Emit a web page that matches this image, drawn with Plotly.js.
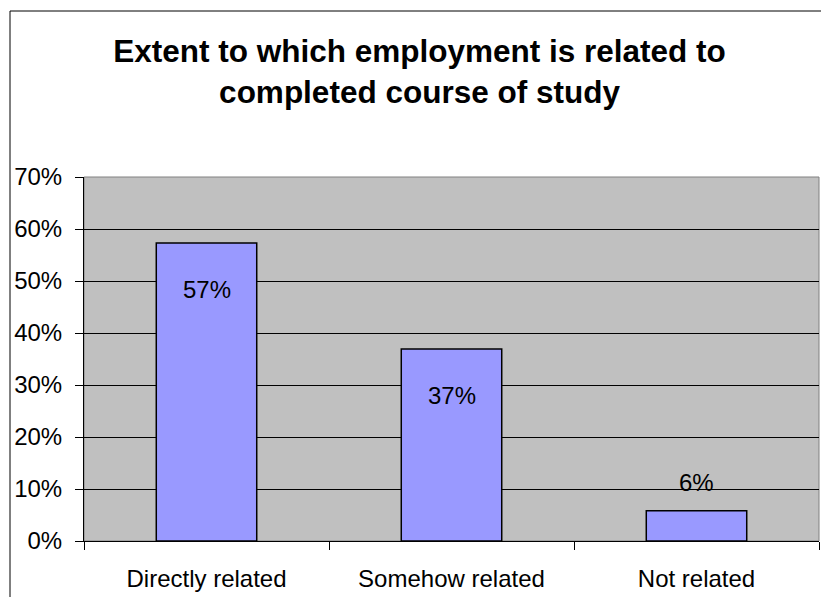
<!DOCTYPE html>
<html><head><meta charset="utf-8">
<script src="https://cdn.plot.ly/plotly-3.0.1.min.js"></script>
<style>html,body{margin:0;padding:0;background:#fff}#chart{width:821px;height:597px}</style>
</head><body><div id="chart"></div>
<script>
const categories = ["Directly related", "Somehow related", "Not related"];
const values = [0.573, 0.369, 0.058];
const labels = ["57%", "37%", "6%"];
const labelShift = [-46, -46, 28];
const yTicks = [0, 0.1, 0.2, 0.3, 0.4, 0.5, 0.6, 0.7];

const font = "Liberation Sans, Arial, sans-serif";
const trace = {
  type: "bar", x: categories, y: values,
  marker: {color: "#9999FF", line: {color: "#000000", width: 1.5}},
  width: 0.41, hoverinfo: "none"
};
const annotations = categories.map((c, i) => ({
  x: c, y: values[i], xref: "x", yref: "y", text: labels[i],
  showarrow: false, yshift: labelShift[i],
  font: {family: font, size: 24, color: "#000"}
}));
const W = 735, H = 364;
const layout = {
  width: 821, height: 597,
  margin: {l: 84, r: 2, t: 177, b: 56, pad: 0},
  paper_bgcolor: "#ffffff", plot_bgcolor: "#C0C0C0",
  font: {family: font, color: "#000"},
  title: {text: "<b>Extent to which employment is related to<br>completed course of study</b>",
    font: {family: font, size: 31.5, color: "#000"}, x: 0.511, xanchor: "center", y: 0.896, yanchor: "middle"},
  showlegend: false,
  bargap: 0.59,
  xaxis: {type: "category", tickson: "boundaries", ticks: "outside", ticklen: 8, tickcolor: "#000",
    showline: true, linecolor: "#000", linewidth: 1, showgrid: false, ticklabelstandoff: 16,
    tickfont: {family: font, size: 24, color: "#000"}, fixedrange: true},
  yaxis: {range: [0, 0.7], tickvals: yTicks, tickformat: ".0%", ticks: "outside", ticklen: 8,
    tickcolor: "#000", showline: true, linecolor: "#000", linewidth: 1, ticklabelstandoff: 8,
    showgrid: true, gridcolor: "#000", gridwidth: 1, zeroline: false,
    tickfont: {family: font, size: 24, color: "#000"}, fixedrange: true},
  annotations: annotations,
  shapes: [
    {type: "rect", xref: "paper", yref: "paper", x0: 0, x1: 1, y0: 0, y1: 1,
     line: {color: "#808080", width: 1}, layer: "below"},
    {type: "line", xref: "paper", yref: "paper", x0: -74/W, x1: -74/W, y0: 530/H, y1: -60/H,
     line: {color: "#000", width: 1}},
    {type: "line", xref: "paper", yref: "paper", x0: -74/W, x1: 740/W, y0: 530/H, y1: 530/H,
     line: {color: "#000", width: 1}}
  ]
};
Plotly.newPlot("chart", [trace], layout, {displayModeBar: false, staticPlot: true});
</script></body></html>
